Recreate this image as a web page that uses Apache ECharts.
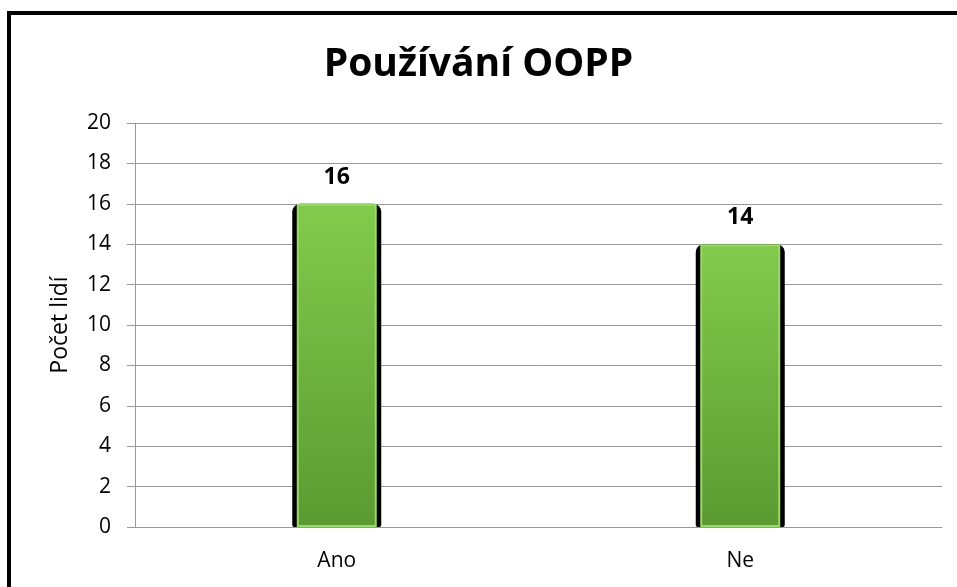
<!DOCTYPE html>
<html>
<head>
<meta charset="utf-8">
<script src="https://cdn.jsdelivr.net/npm/echarts@6/dist/echarts.min.js"></script>
<style>
  html, body { margin: 0; padding: 0; background: #fff; }
  #chart { width: 957px; height: 587px; position: absolute; left: 0; top: 0; }
  #frame { position: absolute; left: 7px; top: 11px; width: 960px; height: 590px;
           border-left: 4px solid #000; border-top: 4px solid #000; pointer-events: none; }
</style>
</head>
<body>
<div id="chart"></div>
<div id="frame"></div>
<script>
// chart data
const categories = ['Ano', 'Ne'];
const values = [16, 14];
const yTicks = {min: 0, max: 20, step: 2};

const font = '"Open Sans", sans-serif';

let myChart = echarts.init(document.getElementById('chart'));

let option = {
  animation: false,
  title: {
    text: 'Používání OOPP',
    left: 'center',
    top: 40,
    textStyle: {fontFamily: font, fontSize: 39, fontWeight: 'bold', color: '#000'}
  },
  grid: {left: 135, right: 15, top: 123, bottom: 60},
  xAxis: [{
    type: 'category',
    data: categories,
    axisLine: {lineStyle: {color: '#999'}},
    axisTick: {length: 8, lineStyle: {color: '#999'}},
    axisLabel: {fontFamily: font, fontSize: 21, color: '#000', margin: 24}
  }, {
    type: 'category',
    data: categories,
    show: false
  }],
  yAxis: {
    type: 'value',
    min: yTicks.min,
    max: yTicks.max,
    interval: yTicks.step,
    name: 'Počet lidí',
    nameLocation: 'middle',
    nameGap: 63,
    nameTextStyle: {fontFamily: font, fontSize: 23, color: '#000'},
    axisLine: {show: true, lineStyle: {color: '#999'}},
    axisTick: {show: true, length: 8, lineStyle: {color: '#999'}},
    axisLabel: {fontFamily: font, fontSize: 21, color: '#000', margin: 24},
    splitLine: {lineStyle: {color: '#999'}}
  },
  series: [{
    // black shadow behind the bars
    type: 'bar',
    xAxisIndex: 0,
    data: values,
    barWidth: 89,
    itemStyle: {color: '#000', borderRadius: [8, 8, 2, 2]},
    silent: true
  }, {
    type: 'bar',
    xAxisIndex: 1,
    data: values,
    barWidth: 80,
    itemStyle: {
      color: new echarts.graphic.LinearGradient(0, 0, 0, 1, [
        {offset: 0, color: '#82cb4c'},
        {offset: 1, color: '#5b9a31'}
      ]),
      borderColor: '#9ad86c',
      borderWidth: 2
    },
    label: {
      show: true,
      position: 'top',
      distance: 15,
      fontFamily: font,
      fontSize: 23,
      fontWeight: 'bold',
      color: '#000'
    }
  }]
};

myChart.setOption(option);
</script>
</body>
</html>
